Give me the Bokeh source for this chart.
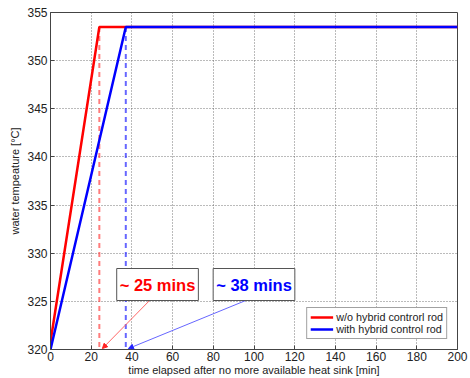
from bokeh.plotting import figure
from bokeh.models import (Label, Arrow, NormalHead, Legend, LegendItem, Range1d,
                          FixedTicker)
from bokeh.embed import file_html
from bokeh.resources import INLINE

# data
t_wo = [0, 24, 200]
T_wo = [320.8, 353.5, 353.5]
t_with = [0, 37, 200]
T_with = [320, 353.5, 353.5]
mark_wo = 24
mark_with = 37
label_wo = "~ 25 mins"
label_with = "~ 38 mins"
legend_labels = ["w/o hybrid controrl rod", "with hybrid control rod"]
x_ticks = list(range(0, 201, 20))
y_ticks = list(range(320, 356, 5))

FONT = "Liberation Sans"

p = figure(width=470, height=378, output_backend="svg", toolbar_location=None,
           x_range=Range1d(0, 200), y_range=Range1d(320, 355),
           min_border_left=50, min_border_right=13, min_border_top=12,
           min_border_bottom=28)
p.outline_line_color = "#444444"
p.outline_line_width = 1
p.background_fill_color = "white"
p.border_fill_color = "white"

for ax, ticks in ((p.xaxis[0], x_ticks), (p.yaxis[0], y_ticks)):
    ax.ticker = FixedTicker(ticks=ticks)
    ax.major_tick_in = 4
    ax.major_tick_out = 0
    ax.minor_tick_in = 0
    ax.minor_tick_out = 0
    ax.axis_line_color = "#444444"
    ax.major_tick_line_color = "#444444"
    ax.major_label_text_font = FONT
    ax.major_label_text_font_size = "12px"
    ax.major_label_text_color = "#222222"
    ax.axis_label_text_font = FONT
    ax.axis_label_text_font_size = "11px"
    ax.axis_label_text_font_style = "normal"
    ax.axis_label_text_color = "#222222"

p.xaxis.axis_label = "time elapsed after no more available heat sink [min]"
p.yaxis.axis_label = "water tempeature [°C]"
p.xaxis.major_label_standoff = 2
p.xaxis.axis_label_standoff = 0
p.yaxis.major_label_standoff = 3
p.yaxis.axis_label_standoff = 3

for g in (p.xgrid[0], p.ygrid[0]):
    g.grid_line_color = "#555555"
    g.grid_line_dash = "1 2"
    g.grid_line_width = 1
    g.grid_line_alpha = 0.8
p.xgrid.ticker = FixedTicker(ticks=x_ticks)
p.ygrid.ticker = FixedTicker(ticks=y_ticks)

# dashed markers
p.line([mark_wo, mark_wo], [T_wo[1], 320], color="#ff4444", line_width=2,
       line_dash="5 4", alpha=0.7)
p.line([mark_with, mark_with], [T_with[1], 320], color="#3333ff", line_width=2,
       line_dash="5 4", alpha=0.75)

r1 = p.line(t_wo, T_wo, color="#ff0000", line_width=2.5)
r2 = p.line(t_with, T_with, color="#0000ff", line_width=2.5)

# annotations
p.add_layout(Arrow(end=NormalHead(size=5, fill_color="#ff2222", line_color="#ff2222"),
                   x_start=50.6, y_start=325.5, x_end=25.5, y_end=320.1,
                   line_color="#ff6666", line_width=1))
p.add_layout(Arrow(end=NormalHead(size=5, fill_color="#2222ff", line_color="#2222ff"),
                   x_start=100.7, y_start=325.5, x_end=38.3, y_end=320.1,
                   line_color="#6666ff", line_width=1))

for txt, xc, col in ((label_wo, 52.6, "#ff0000"), (label_with, 100.0, "#0000ff")):
    p.add_layout(Label(x=xc, y=326.75, text=txt, text_align="center",
                       text_baseline="middle", text_font=FONT,
                       text_font_size="16.5px", text_font_style="bold",
                       text_color=col, background_fill_color="white",
                       border_line_color="#555555", border_line_width=1,
                       padding=(3, 7)))

legend = Legend(items=[LegendItem(label=legend_labels[0], renderers=[r1]),
                       LegendItem(label=legend_labels[1], renderers=[r2])],
                location="bottom_right", margin=10, padding=3, spacing=0,
                label_text_font=FONT, label_text_font_size="10.8px",
                label_height=12, glyph_height=12, glyph_width=23,
                label_standoff=3, border_line_color="#444444",
                label_text_color="#222222")
p.add_layout(legend)

open("out.html", "w").write(file_html(p, INLINE))
